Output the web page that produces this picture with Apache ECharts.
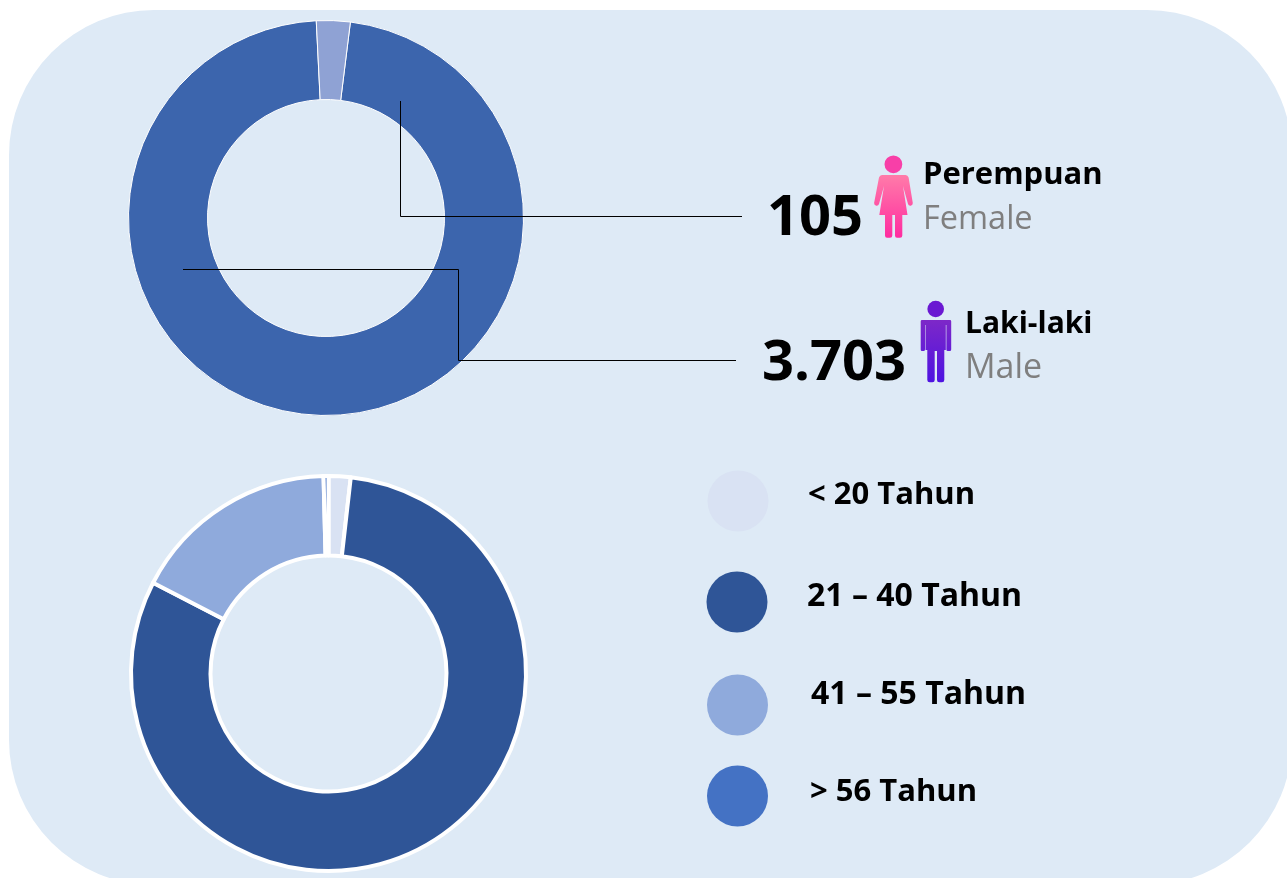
<!DOCTYPE html>
<html>
<head>
<meta charset="utf-8">
<title>Gender dan usia</title>
<script src="https://cdn.jsdelivr.net/npm/echarts@6/dist/echarts.min.js"></script>
<style>
  html, body { margin: 0; padding: 0; background: #fff; }
  #chart { width: 1287px; height: 878px; }
</style>
</head>
<body>
<div id="chart"></div>
<script>
var genderNames = ['Laki-laki', 'Perempuan'];
var genderValues = [3703, 105];
var genderColors = ['#3C65AD', '#8FA2D4'];

var ageNames = ['< 20 Tahun', '21 – 40 Tahun', '41 – 55 Tahun', '> 56 Tahun'];
var ageValues = [1.8, 80.8, 17.0, 0.4];
var ageColors = ['#D9E2F3', '#2F5597', '#8FAADC', '#4472C4'];

var FONT = '"Open Sans", sans-serif';

// person icons, graphic has no plain path type so register them as shapes
echarts.graphic.registerShape('womanBody', echarts.graphic.extendPath('M882 175L905.5 175Q907.8 175 908.6 177.5L912.8 203Q912.9 205 910.8 205.7Q908.6 206 908 204L903 186L907.5 215L902.3 215L902.3 235.5Q902.3 237.8 900 237.8L897 237.8Q895 237.8 895 235.5L895 215L892.3 215L892.3 235.5Q892.3 237.8 890 237.8L887 237.8Q885 237.8 885 235.5L885 215L879.3 215L884 186L879 204Q878.4 206 876.2 205.7Q874 205 874.1 203L879 177.5Q879.8 175 882 175z'));
echarts.graphic.registerShape('manBody', echarts.graphic.extendPath('M922 320L950 320Q951.2 320 951.2 321.2L951.2 349.5Q951.2 351 949.7 351L947.8 351Q946.4 351 946.4 349.5L946.4 325L945.8 325L945.8 350L944.3 350L944.3 380Q944.3 382.3 942 382.3L939.3 382.3Q937 382.3 937 380L937 351L934.7 351L934.7 380Q934.7 382.3 932.4 382.3L929.7 382.3Q927.3 382.3 927.3 380L927.3 350L925.5 350L925.5 325L925 325L925 349.5Q925 351 923.6 351L922 351Q920.7 351 920.7 349.5L920.7 321.2Q920.7 320 922 320z'));

function label(x, y, text, size, weight, color) {
    return {
        type: 'text',
        x: x,
        y: y,
        z: 20,
        style: {
            text: text,
            fill: color,
            font: weight + ' ' + size + 'px ' + FONT,
            verticalAlign: 'middle'
        }
    };
}

function grad(top, bottom) {
    return new echarts.graphic.LinearGradient(0, 0, 0, 1, [
        { offset: 0, color: top },
        { offset: 1, color: bottom }
    ]);
}

// positions of the legend dots and texts, they are not on a regular grid
var legendDots = [[738, 501, 30.5], [737, 602, 30.5], [737.5, 705, 30.5], [737.5, 796, 30.5]];
var legendText = [[808, 495, 31], [807, 597, 32], [811, 695, 32], [810, 792, 31]];

var graphics = [
    {
        type: 'rect',
        z: -10,
        shape: { x: 9, y: 10, width: 1283, height: 875, r: 145 },
        style: { fill: '#DEEAF6' }
    },
    // leader lines
    {
        type: 'polyline',
        z: 15,
        shape: { points: [[400.5, 101], [400.5, 216.5], [742, 216.5]] },
        style: { stroke: '#000', lineWidth: 1, fill: null }
    },
    {
        type: 'polyline',
        z: 15,
        shape: { points: [[183, 269.5], [458.5, 269.5], [458.5, 360.5], [736, 360.5]] },
        style: { stroke: '#000', lineWidth: 1, fill: null }
    },
    label(767, 219, '105', 56, 'bold', '#000'),
    label(762, 364, '3.703', 56, 'bold', '#000'),
    label(923, 175, 'Perempuan', 31, 'bold', '#000'),
    label(923, 220, 'Female', 32.5, 'normal', '#7F7F7F'),
    label(965, 324, 'Laki-laki', 30, 'bold', '#000'),
    label(965, 368, 'Male', 34, 'normal', '#7F7F7F'),
    // woman
    { type: 'circle', z: 20, shape: { cx: 893.4, cy: 164.3, r: 8.9 }, style: { fill: '#F83FA8' } },
    { type: 'womanBody', z: 20, style: { fill: grad('#FF7BA9', '#FF2CA0') } },
    // man
    { type: 'circle', z: 20, shape: { cx: 935.7, cy: 309, r: 8.3 }, style: { fill: '#6A18D2' } },
    { type: 'manBody', z: 20, style: { fill: grad('#7D28C8', '#4E12E2') } }
];

for (var i = 0; i < ageNames.length; i++) {
    graphics.push({
        type: 'circle',
        z: 20,
        shape: { cx: legendDots[i][0], cy: legendDots[i][1], r: legendDots[i][2] },
        style: { fill: ageColors[i] }
    });
    graphics.push(label(legendText[i][0], legendText[i][1], ageNames[i], legendText[i][2], 'bold', '#000'));
}

function pieData(names, values, colors) {
    return names.map(function (n, i) {
        return { name: n, value: values[i], itemStyle: { color: colors[i] } };
    });
}

var chart = echarts.init(document.getElementById('chart'), null, { renderer: 'canvas' });
chart.setOption({
    animation: false,
    backgroundColor: '#fff',
    graphic: { elements: graphics },
    series: [
        {
            type: 'pie',
            silent: true,
            center: [326, 218],
            radius: [118.5, 197.5],
            startAngle: 82.9,
            label: { show: false },
            labelLine: { show: false },
            itemStyle: { borderColor: '#fff', borderWidth: 1 },
            data: pieData(genderNames, genderValues, genderColors)
        },
        {
            type: 'pie',
            silent: true,
            center: [328.5, 673.5],
            radius: [118, 197.5],
            startAngle: 90,
            label: { show: false },
            labelLine: { show: false },
            itemStyle: { borderColor: '#fff', borderWidth: 4 },
            data: pieData(ageNames, ageValues, ageColors)
        }
    ]
});
</script>
</body>
</html>
